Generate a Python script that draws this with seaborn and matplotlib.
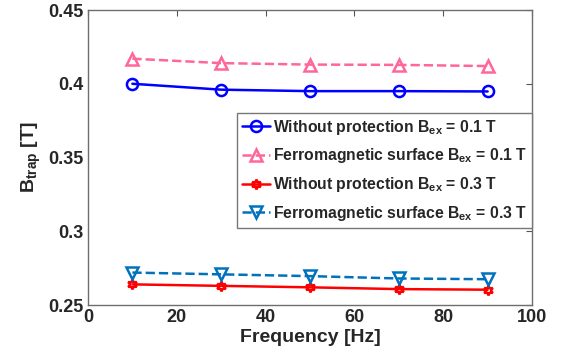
import matplotlib
matplotlib.use("Agg")
import matplotlib.pyplot as plt
import seaborn as sns
import pandas as pd

# Trapped field versus excitation frequency
frequency = [10, 30, 50, 70, 90]
no_prot_01 = [0.400, 0.396, 0.395, 0.395, 0.3948]
ferro_01 = [0.417, 0.414, 0.413, 0.4128, 0.412]
no_prot_03 = [0.264, 0.263, 0.262, 0.2608, 0.2604]
ferro_03 = [0.272, 0.2708, 0.2696, 0.268, 0.2675]

labels = [
    "Without protection B$_{ex}$ = 0.1 T",
    "Ferromagnetic surface B$_{ex}$ = 0.1 T",
    "Without protection B$_{ex}$ = 0.3 T",
    "Ferromagnetic surface B$_{ex}$ = 0.3 T",
]
series = [no_prot_01, ferro_01, no_prot_03, ferro_03]
colors = ["#0000ff", "#ff6699", "#ff0000", "#0072bd"]
markers = ["o", "^", (6, 1, 0), "v"]
msizes = [8, 9, 7, 9]
dashes = ["-", "--", "-", "--"]

sns.set_theme(style="white")
plt.rcParams["font.family"] = ["Liberation Sans", "DejaVu Sans"]
plt.rcParams["font.weight"] = "bold"
plt.rcParams["mathtext.fontset"] = "custom"
plt.rcParams["mathtext.rm"] = "Liberation Sans:bold"
plt.rcParams["mathtext.it"] = "Liberation Sans:bold"
plt.rcParams["mathtext.bf"] = "Liberation Sans:bold"
plt.rcParams["mathtext.default"] = "bf"

fig = plt.figure(figsize=(5.63, 3.64), dpi=100)
ax = fig.add_axes([0.1563, 0.162, 0.7887, 0.8105])

for vals, lab, c, m, ms, ls in zip(series, labels, colors, markers, msizes, dashes):
    df = pd.DataFrame({"f": frequency, "b": vals})
    sns.lineplot(data=df, x="f", y="b", ax=ax, color=c, marker=m,
                 markersize=ms, markerfacecolor="none", markeredgecolor=c,
                 markeredgewidth=1.8, linewidth=1.8, linestyle=ls, label=lab)

ax.set_xlim(0, 100)
ax.set_ylim(0.25, 0.45)
ax.set_xticks([0, 20, 40, 60, 80, 100])
ax.set_yticks([0.25, 0.3, 0.35, 0.4, 0.45])
ax.set_yticklabels(["0.25", "0.3", "0.35", "0.4", "0.45"])
ax.tick_params(direction="in", length=4, width=0.8, color="#555555",
               labelsize=13, top=True, right=True, pad=3)
for lab in ax.get_xticklabels() + ax.get_yticklabels():
    lab.set_fontweight("bold")
for sp in ax.spines.values():
    sp.set_color("#6e6e6e")
    sp.set_linewidth(1.0)

ax.set_xlabel("Frequency [Hz]", fontsize=14, fontweight="bold", labelpad=2)
ax.set_ylabel("B$_{trap}$ [T]", fontsize=14, fontweight="bold", labelpad=4)

leg = ax.legend(loc="upper right", bbox_to_anchor=(1.0, 0.651),
                fontsize=11.3, handlelength=1.8, handletextpad=0.2,
                borderpad=0.3, labelspacing=0.62, fancybox=False,
                framealpha=1, borderaxespad=0)
leg.get_frame().set_edgecolor("#777777")
leg.get_frame().set_linewidth(1.0)
for t in leg.get_texts():
    t.set_fontweight("bold")

fig.savefig("out.png", dpi=100)
